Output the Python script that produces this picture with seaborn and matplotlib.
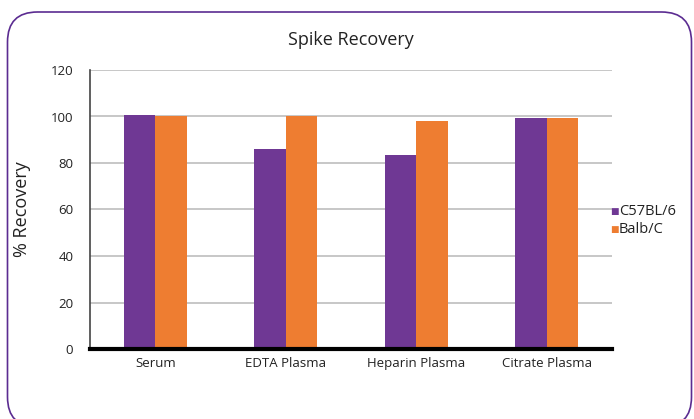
import matplotlib
matplotlib.use("Agg")
import matplotlib.pyplot as plt
from matplotlib.patches import FancyBboxPatch
from matplotlib.transforms import IdentityTransform
import pandas as pd
import seaborn as sns

sample_types = ["Serum", "EDTA Plasma", "Heparin Plasma", "Citrate Plasma"]
c57_values = [100.5, 86, 83.5, 99.3]
balb_values = [100, 100, 98, 99.3]
strains = ["C57BL/6", "Balb/C"]
colors = ["#6f3894", "#ee7d31"]

df = pd.DataFrame({
    "sample": sample_types * 2,
    "strain": [strains[0]] * 4 + [strains[1]] * 4,
    "recovery": c57_values + balb_values,
})

sns.set_style("white")
plt.rcParams["font.family"] = ["Open Sans", "DejaVu Sans"]

fig = plt.figure(figsize=(6.94, 4.19), dpi=100)
ax = fig.add_axes([90 / 694, 70 / 419, 522 / 694, 279 / 419])

sns.barplot(data=df, x="sample", y="recovery", hue="strain",
            palette=colors, width=0.48, ax=ax, saturation=1, legend=False,
            linewidth=0)

ax.set_ylim(0, 120)
ax.set_yticks(range(0, 121, 20))
ax.set_xlim(-0.5, 3.5)
ax.yaxis.grid(True, color="#bdbdbd", linewidth=1.2)
ax.set_axisbelow(True)
for s in ["top", "right"]:
    ax.spines[s].set_visible(False)
ax.spines["left"].set_color("#444444")
ax.spines["left"].set_linewidth(1.2)
ax.spines["bottom"].set_color("black")
ax.spines["bottom"].set_linewidth(3)
ax.tick_params(axis="y", labelsize=9.5, colors="#222222", pad=12, length=0)
ax.tick_params(axis="x", labelsize=9.5, colors="#222222", pad=6, length=0)
ax.set_xlabel("")
ax.set_ylabel("% Recovery", fontsize=13, color="#222222", labelpad=14)
ax.set_title("Spike Recovery", fontsize=13, color="#222222", pad=18)

# legend drawn as text + square markers, clipped at figure edge
for i, (name, col) in enumerate(zip(strains, colors)):
    y = 211 + i * 18
    fig.text(610 / 694, 1 - y / 419, "\u25a0", color=col, fontsize=6.5, va="center")
    fig.text(619 / 694, 1 - y / 419, name, color="#222222", fontsize=10.5, va="center")

# rounded purple frame, in pixel units
border = FancyBboxPatch((7.5, -8), 684, 415,
                        boxstyle="round,pad=0,rounding_size=30",
                        transform=IdentityTransform(), fill=False,
                        edgecolor="#5b2c91", linewidth=1.2)
fig.patches.append(border)

fig.savefig("out.png", dpi=100)
